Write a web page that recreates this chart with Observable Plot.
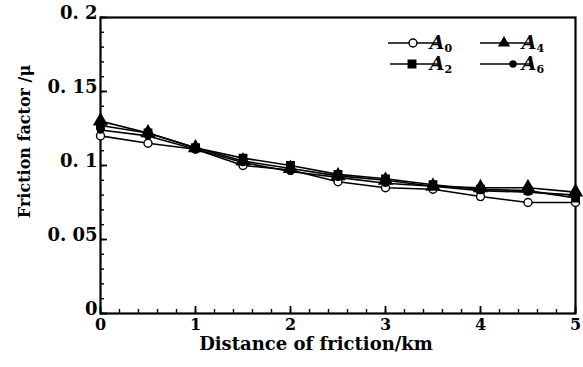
<!DOCTYPE html>
<html><head><meta charset="utf-8">
<script src="https://cdn.jsdelivr.net/npm/d3@7"></script>
<script src="https://cdn.jsdelivr.net/npm/@observablehq/plot@0.6"></script>
<style>body{margin:0;background:#fff}</style>
</head><body><div id="chart"></div>
<script>
const distance = [0, 0.5, 1, 1.5, 2, 2.5, 3, 3.5, 4, 4.5, 5];
const seriesNames = ["A0", "A2", "A4", "A6"];
const seriesSubs = ["0", "2", "4", "6"];
const A0 = [0.120, 0.115, 0.111, 0.100, 0.097, 0.089, 0.085, 0.084, 0.079, 0.075, 0.075];
const A2 = [0.127, 0.122, 0.112, 0.105, 0.100, 0.094, 0.091, 0.087, 0.084, 0.083, 0.078];
const A4 = [0.130, 0.122, 0.112, 0.103, 0.098, 0.093, 0.090, 0.086, 0.085, 0.085, 0.082];
const A6 = [0.124, 0.120, 0.111, 0.102, 0.096, 0.092, 0.088, 0.086, 0.083, 0.082, 0.080];
const xTicks = [0, 1, 2, 3, 4, 5];
const yTicks = [0, 0.05, 0.1, 0.15, 0.2];
const yTickLabels = ["0", "0. 05", "0. 1", "0. 15", "0. 2"];
const xMinor = d3.range(0, 5.001, 0.2);
const yMinor = d3.range(0, 0.2001, 0.01);
const xLabel = "Distance of friction/km";
const yLabel = "Friction factor /μ";

const values = {A0, A2, A4, A6};
const rows = seriesNames.flatMap(s => distance.map((d, i) => ({series: s, x: d, y: values[s][i]})));
const sym = {A0: "circle", A2: "square", A4: "triangle", A6: "circle"};
const rad = {A0: 4, A2: 4.2, A4: 4.8, A6: 3};
const fillOf = {A0: "#fff", A2: "#000", A4: "#000", A6: "#000"};

const W = 583, H = 367, ML = 100, MR = 8, MT = 17, MB = 54;
const FW = W - ML - MR, FH = H - MT - MB;
const xPerPx = 5 / FW, yPerPx = 0.2 / FH;
const font = "DejaVu Serif";
const plot = Plot.plot({
  width: W, height: H,
  marginLeft: ML, marginRight: MR, marginTop: MT, marginBottom: MB,
  style: {fontFamily: font, fontSize: "16px", color: "#000", background: "#fff"},
  x: {domain: [0, 5]},
  y: {domain: [0, 0.2]},
  marks: [
    Plot.frame({stroke: "#000", strokeWidth: 2.2}),
    Plot.ruleX(xMinor, {x: d => d, y1: 0, y2: 4 * yPerPx, stroke: "#000", strokeWidth: 1.4}),
    Plot.ruleX(xTicks, {x: d => d, y1: 0, y2: 7 * yPerPx, stroke: "#000", strokeWidth: 1.8}),
    Plot.ruleY(yMinor, {y: d => d, x1: 0, x2: 4 * xPerPx, stroke: "#000", strokeWidth: 1.4}),
    Plot.ruleY(yTicks, {y: d => d, x1: 0, x2: 7 * xPerPx, stroke: "#000", strokeWidth: 1.8}),
    Plot.axisX(xTicks, {tickSize: 0, tickPadding: 5, label: null, fontWeight: "bold", fontSize: 16}),
    Plot.axisY(yTicks, {tickSize: 0, tickPadding: 3, dy: -4, label: null, fontWeight: "bold", fontSize: 18,
      tickFormat: d => yTickLabels[yTicks.indexOf(d)]}),
    ...seriesNames.map(s => Plot.line(rows.filter(r => r.series === s), {x: "x", y: "y", stroke: "#000", strokeWidth: 1.6})),
    ...seriesNames.map(s => Plot.dot(rows.filter(r => r.series === s), {x: "x", y: "y", symbol: () => sym[s], r: rad[s], fill: fillOf[s], stroke: "#000", strokeWidth: 1.4})),
    Plot.text([xLabel], {frameAnchor: "bottom", dx: -22, dy: 36, fontSize: 18, fontWeight: "bold", text: d => d, letterSpacing: 1.3}),
    Plot.text([yLabel], {frameAnchor: "left", textAnchor: "middle", dx: -76, dy: -24, rotate: -90, fontSize: 16, fontWeight: "bold", text: d => d})
  ]
});
document.getElementById("chart").appendChild(plot);

// legend
const svg = d3.select(plot);
const lg = svg.append("g").attr("fill", "#000");
const legendPos = [
  {s: "A0", x0: 388, x1: 438, mx: 413, tx: 441, y: 43},
  {s: "A2", x0: 390, x1: 438, mx: 412, tx: 441, y: 64},
  {s: "A4", x0: 480, x1: 530, mx: 504, tx: 533, y: 43},
  {s: "A6", x0: 480, x1: 530, mx: 513, tx: 533, y: 64}
];
const symMap = {circle: d3.symbolCircle, square: d3.symbolSquare, triangle: d3.symbolTriangle};
legendPos.forEach(p => {
  const s = p.s;
  lg.append("line").attr("x1", p.x0).attr("x2", p.x1).attr("y1", p.y).attr("y2", p.y)
    .attr("stroke", "#000").attr("stroke-width", 1.6);
  const r = rad[s];
  const area = sym[s] === "circle" ? Math.PI * r * r : sym[s] === "square" ? 4 * r * r * 0.8 : r * r * 1.8;
  lg.append("path").attr("d", d3.symbol(symMap[sym[s]], area)())
    .attr("transform", `translate(${p.mx},${p.y})`)
    .attr("fill", fillOf[s]).attr("stroke", "#000").attr("stroke-width", 1.4);
  const t = lg.append("text").attr("x", p.tx).attr("y", p.y + 6)
    .attr("font-family", font).attr("font-size", 19).attr("font-style", "italic").attr("font-weight", "bold");
  t.append("tspan").text("A");
  t.append("tspan").attr("font-size", 11).attr("font-style", "normal").attr("dy", 3).text(seriesSubs[seriesNames.indexOf(s)]);
});
</script>
</body></html>
